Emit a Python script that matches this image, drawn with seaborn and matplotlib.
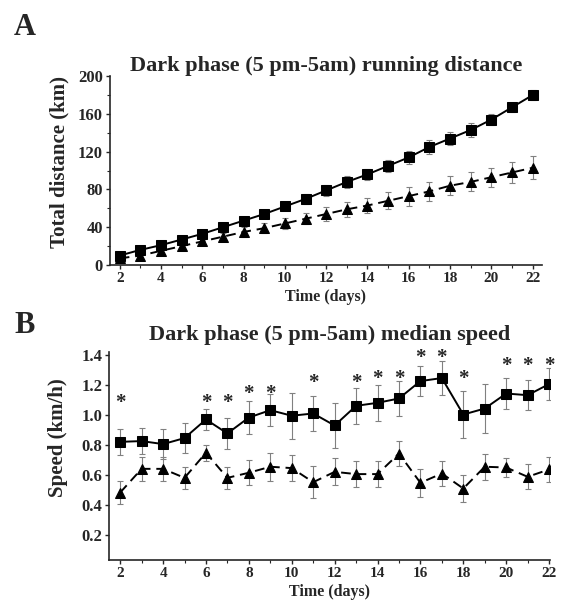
import numpy as np
import pandas as pd
import matplotlib
matplotlib.use("Agg")
import matplotlib.pyplot as plt
from matplotlib.ticker import MultipleLocator
import seaborn as sns

# Data
days = list(range(2, 23))

dist_sq = [10, 16, 21, 27, 33, 40, 47, 54, 62, 70, 79, 88, 96, 105, 114, 125, 134, 143, 154, 167, 180]
dist_sq_err = [2, 3, 3, 3, 3, 3, 4, 4, 4, 5, 6, 6, 6, 6, 7, 7, 7, 7, 6, 5, 5]
dist_tri = [7, 10, 15, 20, 25, 30, 35, 39, 44, 49, 54, 59, 63, 68, 73, 78, 84, 88, 93, 98, 103]
dist_tri_err = [2, 2, 3, 3, 3, 4, 5, 5, 6, 6, 7, 8, 8, 9, 10, 10, 10, 10, 10, 11, 12]

speed_sq = [0.822, 0.827, 0.807, 0.847, 0.971, 0.878, 0.984, 1.033, 0.996, 1.011, 0.931,
            1.062, 1.082, 1.111, 1.227, 1.247, 1.004, 1.044, 1.144, 1.133, 1.207]
speed_sq_err = [0.085, 0.089, 0.10, 0.10, 0.067, 0.106, 0.11, 0.107, 0.153, 0.118, 0.147,
                0.122, 0.122, 0.116, 0.10, 0.115, 0.154, 0.163, 0.105, 0.10, 0.104]
speed_tri = [0.484, 0.642, 0.642, 0.582, 0.749, 0.582, 0.616, 0.656, 0.647, 0.553, 0.622,
             0.607, 0.607, 0.744, 0.549, 0.611, 0.511, 0.656, 0.651, 0.589, 0.638]
speed_tri_err = [0.078, 0.08, 0.08, 0.074, 0.055, 0.074, 0.084, 0.093, 0.084, 0.107, 0.089,
                 0.089, 0.089, 0.085, 0.095, 0.085, 0.089, 0.088, 0.065, 0.084, 0.084]

star_days = [2, 6, 7, 8, 9, 11, 13, 14, 15, 16, 17, 18, 20, 21, 22]
star_y = [1.111, 1.111, 1.111, 1.171, 1.171, 1.244, 1.244, 1.267, 1.267, 1.411, 1.411,
          1.267, 1.356, 1.356, 1.356]

sns.set_style("ticks")
plt.rcParams["font.family"] = ["Liberation Serif", "DejaVu Serif"]
plt.rcParams["font.weight"] = "bold"

fig = plt.figure(figsize=(5.66, 6.05), dpi=100)
ax1 = fig.add_axes([0.194, 0.562, 0.763, 0.312])
ax2 = fig.add_axes([0.193, 0.074, 0.779, 0.344])

ERR_COLOR = "#808080"


def draw_panel(ax, sq, sq_err, tri, tri_err):
    df = pd.DataFrame({"day": days, "sq": sq, "tri": tri})
    ax.errorbar(days, sq, yerr=sq_err, fmt="none", ecolor=ERR_COLOR,
                elinewidth=0.8, capsize=2, capthick=0.8, zorder=1)
    ax.errorbar(days, tri, yerr=tri_err, fmt="none", ecolor=ERR_COLOR,
                elinewidth=0.8, capsize=2, capthick=0.8, zorder=1)
    sns.lineplot(data=df, x="day", y="sq", ax=ax, color="black", lw=1.4,
                 marker="s", markersize=6.5, markeredgecolor="black", zorder=3)
    sns.lineplot(data=df, x="day", y="tri", ax=ax, color="black", lw=1.4,
                 linestyle=(0, (5, 3)), marker="^", markersize=6.5,
                 markeredgecolor="black", zorder=3)


# Panel A
draw_panel(ax1, dist_sq, dist_sq_err, dist_tri, dist_tri_err)
ax1.set_xlim(1.52, 22.44)
ax1.set_ylim(0, 200)
ax1.yaxis.set_major_locator(MultipleLocator(40))
ax1.yaxis.set_minor_locator(MultipleLocator(20))
ax1.set_title("Dark phase (5 pm-5am) running distance", fontsize=16, fontweight="bold", pad=4)
ax1.set_ylabel("Total distance (km)", fontsize=15, fontweight="bold")
ax1.yaxis.set_label_coords(-0.093, 0.548)

# Panel B
draw_panel(ax2, speed_sq, speed_sq_err, speed_tri, speed_tri_err)
for d, y in zip(star_days, star_y):
    # shift so the glyph itself (not its text box) sits on the point
    ax2.annotate("*", (d, y), xytext=(0, -3), textcoords="offset points",
                 ha="center", va="center", fontsize=15, fontweight="bold")
ax2.set_xlim(1.49, 22.05)
ax2.set_ylim(0.033, 1.42)
ax2.set_yticks([0.2, 0.4, 0.6, 0.8, 1.0, 1.2, 1.4])
ax2.set_title("Dark phase (5 pm-5am) median speed", fontsize=16, fontweight="bold", pad=9)
ax2.set_ylabel("Speed (km/h)", fontsize=15, fontweight="bold")
ax2.yaxis.set_label_coords(-0.093, 0.587)

for ax in (ax1, ax2):
    ax.xaxis.set_major_locator(MultipleLocator(2))
    ax.xaxis.set_minor_locator(MultipleLocator(1))
    ax.set_xlabel("Time (days)", fontsize=11.5, fontweight="bold", labelpad=3)
    ax.tick_params(axis="x", which="major", labelsize=11, length=3, width=1, pad=2)
    ax.tick_params(axis="y", which="major", labelsize=12, length=3, width=1, pad=2)
    ax.tick_params(axis="both", which="minor", length=2, width=0.8)
    for lab in ax.get_xticklabels() + ax.get_yticklabels():
        lab.set_fontweight("bold")
    sns.despine(ax=ax)
    for s in ("left", "bottom"):
        ax.spines[s].set_linewidth(1.2)

fig.text(0.025, 0.955, "A", fontsize=22, fontweight="bold", va="center")
fig.text(0.025, 0.462, "B", fontsize=22, fontweight="bold", va="center")

fig.savefig("out.png", dpi=100)
